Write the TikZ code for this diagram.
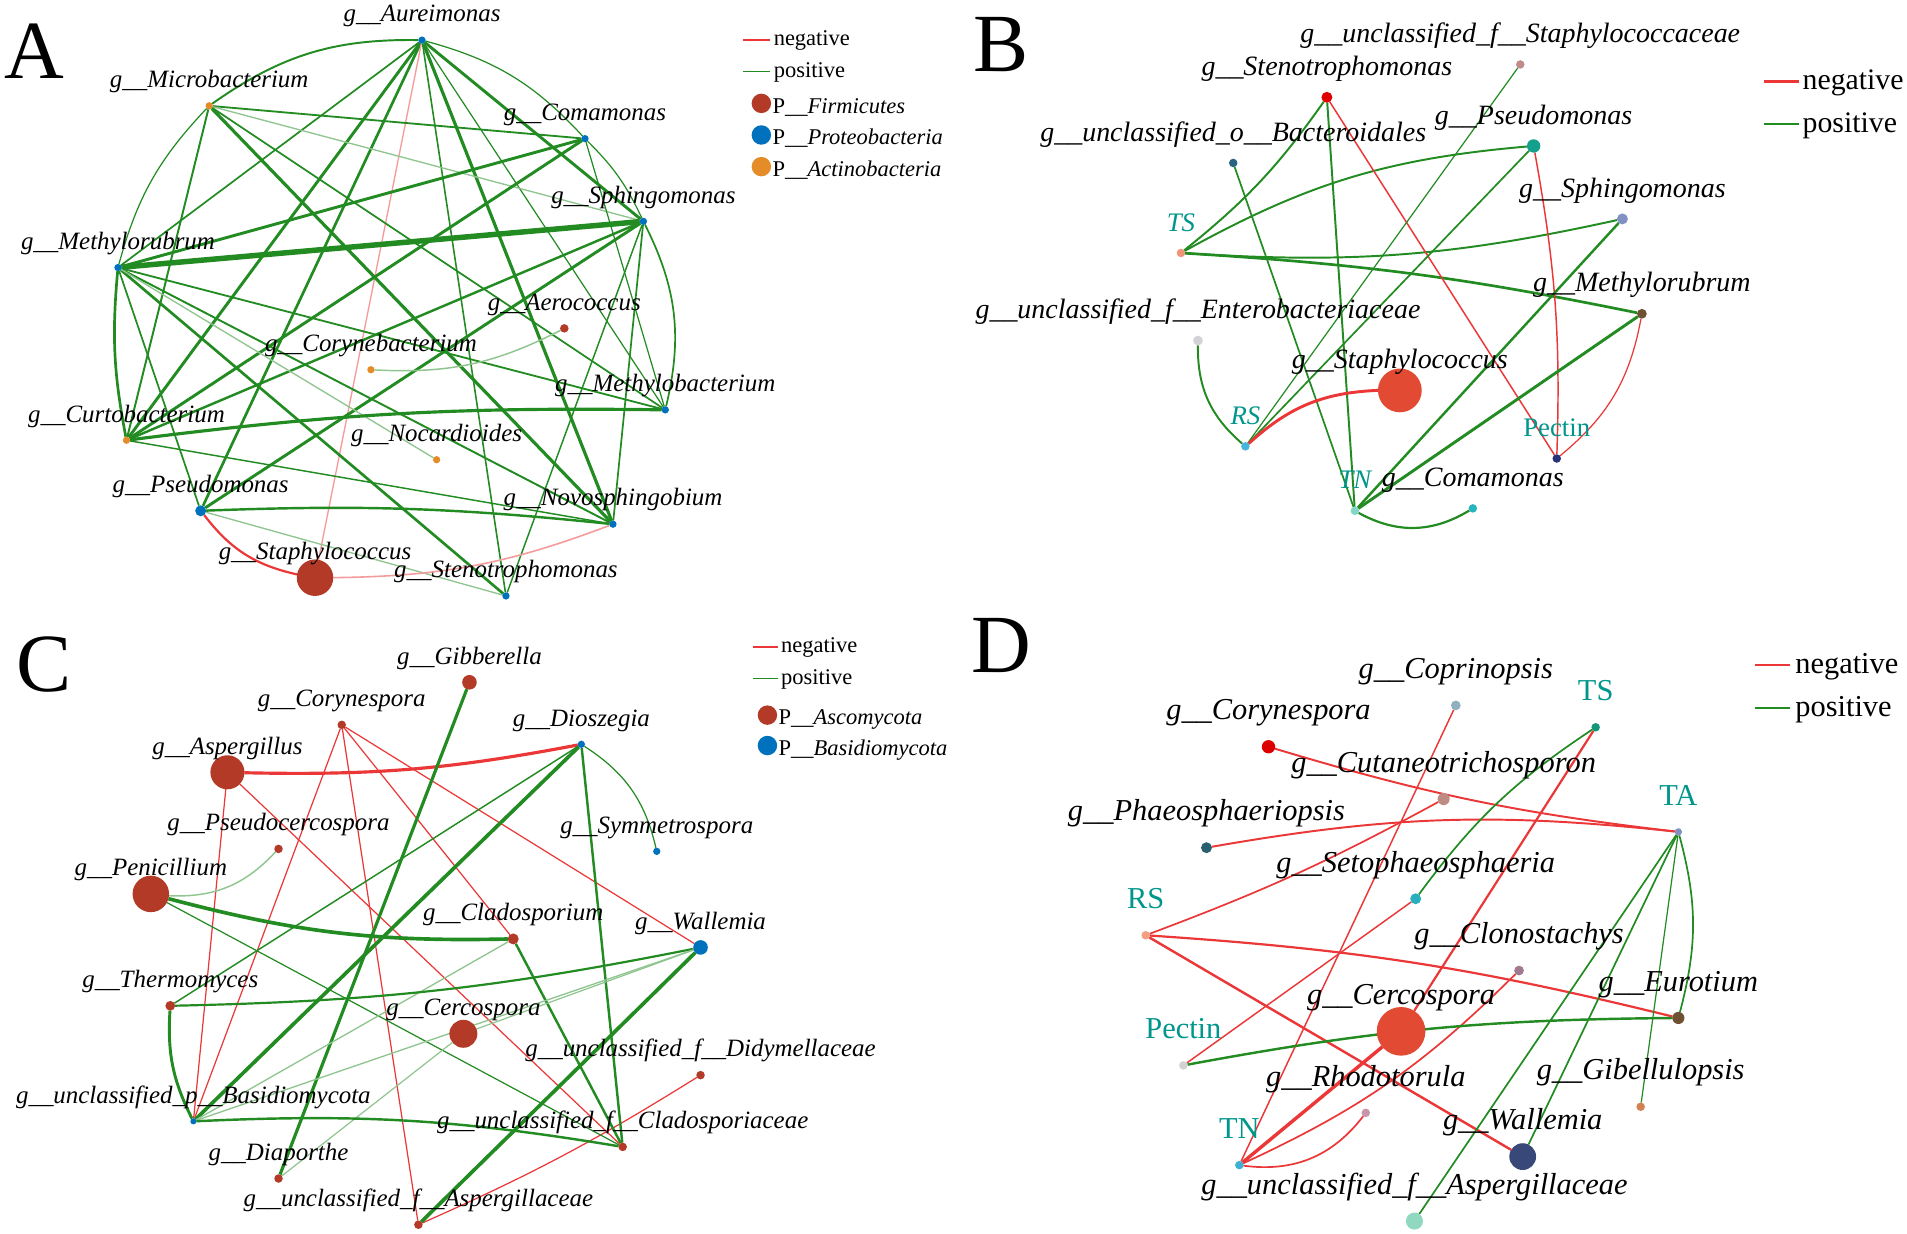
\documentclass[tikz,border=0pt]{standalone}
\usepackage{fontspec}
\setmainfont{Liberation Serif}
\usetikzlibrary{calc}
\definecolor{eg}{RGB}{34,139,34}
\definecolor{er}{RGB}{235,55,55}
\definecolor{nred}{RGB}{180,58,40}
\definecolor{nblue}{RGB}{0,114,189}
\definecolor{norange}{RGB}{228,140,40}
\definecolor{tealtx}{RGB}{0,150,140}
% panel B colours
\definecolor{bcSc}{RGB}{190,140,140}
\definecolor{bcSt}{RGB}{225,0,0}
\definecolor{bcBa}{RGB}{40,100,130}
\definecolor{bcPs}{RGB}{20,160,140}
\definecolor{bcSp}{RGB}{130,145,195}
\definecolor{bcTS}{RGB}{240,150,120}
\definecolor{bcMe}{RGB}{110,80,50}
\definecolor{bcEn}{RGB}{210,210,215}
\definecolor{bcSa}{RGB}{227,74,51}
\definecolor{bcRS}{RGB}{70,180,220}
\definecolor{bcPe}{RGB}{40,50,120}
\definecolor{bcTN}{RGB}{130,215,200}
\definecolor{bcCo}{RGB}{40,180,190}
% panel D colours
\definecolor{dcCp}{RGB}{144,176,192}
\definecolor{dcTS}{RGB}{20,150,120}
\definecolor{dcCy}{RGB}{220,0,0}
\definecolor{dcCt}{RGB}{190,140,130}
\definecolor{dcTA}{RGB}{128,144,192}
\definecolor{dcPh}{RGB}{40,96,112}
\definecolor{dcSe}{RGB}{40,176,190}
\definecolor{dcRS}{RGB}{240,160,128}
\definecolor{dcCl}{RGB}{160,120,144}
\definecolor{dcEu}{RGB}{110,80,50}
\definecolor{dcCe}{RGB}{227,74,51}
\definecolor{dcPe}{RGB}{210,210,210}
\definecolor{dcRh}{RGB}{200,150,170}
\definecolor{dcGi}{RGB}{210,130,80}
\definecolor{dcTN}{RGB}{64,176,208}
\definecolor{dcWa}{RGB}{56,72,120}
\definecolor{dcAg}{RGB}{144,216,192}
\pgfdeclarelayer{edges}
\pgfsetlayers{edges,main}
\newcommand\gn[7]{%
  \node[gdot,minimum size=#4pt,fill=#5] (#1) at (#2,#3) {};%
  \node[#6] (#1L) at (#1.center) {#7};}
\tikzset{
 gdot/.style={circle,inner sep=0pt,outer sep=0pt,draw=none},
 labA/.style={font=\fontsize{20.5}{22}\selectfont\itshape,anchor=base,yshift=15pt,inner sep=0pt},
 labB/.style={font=\fontsize{23}{25}\selectfont\itshape,anchor=base,yshift=18pt,inner sep=0pt},
 tealBi/.style={labB,text=tealtx,font=\fontsize{22}{24}\selectfont\itshape},
 tealB/.style={labB,text=tealtx,font=\fontsize{22}{24}\selectfont\upshape},
 labD/.style={font=\fontsize{25}{27}\selectfont\itshape,anchor=base,yshift=22pt,inner sep=0pt},
 tealD/.style={labD,text=tealtx,font=\fontsize{25}{27}\selectfont\upshape},
 gE/.style={draw=eg,line width=#1pt}, gE/.default=1.2,
 gL/.style={draw=eg!50!white,line width=#1pt}, gL/.default=1,
 rE/.style={draw=er,line width=#1pt}, rE/.default=1.2,
 rL/.style={draw=er!50!white,line width=#1pt}, rL/.default=1,
 legA/.style={anchor=base west,inner sep=0pt,font=\fontsize{18.5}{20}\selectfont},
 legB/.style={anchor=base west,inner sep=0pt,font=\fontsize{24.5}{26}\selectfont},
 panlet/.style={font=\fontsize{68}{70}\selectfont,inner sep=0pt}
}
\begin{document}
\begin{tikzpicture}[x=1pt,y=-1pt]
\useasboundingbox (0,0) rectangle (1568,1014);
\begin{pgfonlayer}{edges}
\fill[white] (0,0) rectangle (1568,1014);
\end{pgfonlayer}

% ================= Panel A =================
\node[panlet] (letA) at (28,42) {A};
\gn{aAu}{347}{33}{6}{nblue}{labA}{g\_\_Aureimonas}
\gn{aMi}{172}{87}{6}{norange}{labA}{g\_\_Microbacterium}
\gn{aCo}{481}{114}{6}{nblue}{labA}{g\_\_Comamonas}
\gn{aSp}{529}{182}{6}{nblue}{labA}{g\_\_Sphingomonas}
\gn{aMe}{97}{220}{6}{nblue}{labA}{g\_\_Methylorubrum}
\gn{aAe}{464}{270}{7}{nred}{labA}{g\_\_Aerococcus}
\gn{aCy}{305}{304}{6}{norange}{labA}{g\_\_Corynebacterium}
\gn{aMb}{547}{337}{6}{nblue}{labA}{g\_\_Methylobacterium}
\gn{aCu}{104}{362}{6}{norange}{labA}{g\_\_Curtobacterium}
\gn{aNo}{359}{378}{6}{norange}{labA}{g\_\_Nocardioides}
\gn{aPs}{165}{420}{9}{nblue}{labA}{g\_\_Pseudomonas}
\gn{aNv}{504}{431}{6}{nblue}{labA}{g\_\_Novosphingobium}
\gn{aSt}{259}{475}{30}{nred}{labA}{g\_\_Staphylococcus}
\gn{aSe}{416}{490}{6}{nblue}{labA}{g\_\_Stenotrophomonas}
% legend A
\coordinate (aLr1) at (611,33); \coordinate (aLr2) at (633,33);
\coordinate (aLg1) at (611,59); \coordinate (aLg2) at (633,59);
\node[legA] (aLneg) at (636,37.5) {negative};
\node[legA] (aLpos) at (636,63.5) {positive};
\node[gdot,minimum size=16pt,fill=nred] (aLd1) at (626,85) {};
\node[gdot,minimum size=16pt,fill=nblue] (aLd2) at (626,111) {};
\node[gdot,minimum size=16pt,fill=norange] (aLd3) at (626,137) {};
\node[legA] (aLt1) at (635,93) {P{\itshape\_\_Firmicutes}};
\node[legA] (aLt2) at (635,119) {P{\itshape\_\_Proteobacteria}};
\node[legA] (aLt3) at (635,145) {P{\itshape\_\_Actinobacteria}};

% ================= Panel B =================
\node[panlet] (letB) at (823,37) {B};
\gn{bSc}{1250}{53}{7}{bcSc}{labB}{g\_\_unclassified\_f\_\_Staphylococcaceae}
\gn{bSt}{1091}{80}{9}{bcSt}{labB}{g\_\_Stenotrophomonas}
\gn{bBa}{1014}{134}{7}{bcBa}{labB}{g\_\_unclassified\_o\_\_Bacteroidales}
\gn{bPs}{1261}{120}{11}{bcPs}{labB}{g\_\_Pseudomonas}
\gn{bSp}{1334}{180}{9}{bcSp}{labB}{g\_\_Sphingomonas}
\gn{bTS}{971}{208}{7}{bcTS}{tealBi}{TS}
\gn{bMe}{1350}{258}{8}{bcMe}{labB}{g\_\_Methylorubrum}
\gn{bEn}{985}{280}{8}{bcEn}{labB}{g\_\_unclassified\_f\_\_Enterobacteriaceae}
\gn{bSa}{1151}{321}{36}{bcSa}{labB}{g\_\_Staphylococcus}
\gn{bRS}{1024}{367}{7}{bcRS}{tealBi}{RS}
\gn{bPe}{1280}{377}{7}{bcPe}{tealB}{Pectin}
\gn{bTN}{1114}{420}{7}{bcTN}{tealBi}{TN}
\gn{bCo}{1211}{418}{7}{bcCo}{labB}{g\_\_Comamonas}
\coordinate (bLr1) at (1450,67); \coordinate (bLr2) at (1479,67);
\coordinate (bLg1) at (1450,102); \coordinate (bLg2) at (1479,102);
\node[legB] (bLneg) at (1482,74) {negative};
\node[legB] (bLpos) at (1482,109) {positive};

% ================= Panel C =================
\node[panlet] (letC) at (36,546) {C};
\gn{cGi}{386}{561}{12}{nred}{labA}{g\_\_Gibberella}
\gn{cCy}{281}{596}{7}{nred}{labA}{g\_\_Corynespora}
\gn{cDi}{478}{612}{6}{nblue}{labA}{g\_\_Dioszegia}
\gn{cAs}{187}{635}{28}{nred}{labA}{g\_\_Aspergillus}
\gn{cPc}{229}{698}{7}{nred}{labA}{g\_\_Pseudocercospora}
\gn{cSy}{540}{700}{6}{nblue}{labA}{g\_\_Symmetrospora}
\gn{cPe}{124}{735}{30}{nred}{labA}{g\_\_Penicillium}
\gn{cCl}{422}{772}{9}{nred}{labA}{g\_\_Cladosporium}
\gn{cWa}{576}{779}{12}{nblue}{labA}{g\_\_Wallemia}
\gn{cTh}{140}{827}{8}{nred}{labA}{g\_\_Thermomyces}
\gn{cCe}{381}{850}{23}{nred}{labA}{g\_\_Cercospora}
\gn{cDm}{576}{884}{7}{nred}{labA}{g\_\_unclassified\_f\_\_Didymellaceae}
\gn{cBa}{159}{922}{5}{nblue}{labA}{g\_\_unclassified\_p\_\_Basidiomycota}
\gn{cCa}{512}{943}{7}{nred}{labA}{g\_\_unclassified\_f\_\_Cladosporiaceae}
\gn{cDp}{229}{969}{7}{nred}{labA}{g\_\_Diaporthe}
\gn{cAg}{344}{1007}{7}{nred}{labA}{g\_\_unclassified\_f\_\_Aspergillaceae}
\coordinate (cLr1) at (619,532); \coordinate (cLr2) at (640,532);
\coordinate (cLg1) at (619,558); \coordinate (cLg2) at (640,558);
\node[legA] (cLneg) at (642,536.5) {negative};
\node[legA] (cLpos) at (642,562.5) {positive};
\node[gdot,minimum size=16pt,fill=nred] (cLd1) at (631,588) {};
\node[gdot,minimum size=16pt,fill=nblue] (cLd2) at (631,613) {};
\node[legA] (cLt1) at (640,596) {P{\itshape\_\_Ascomycota}};
\node[legA] (cLt2) at (640,621) {P{\itshape\_\_Basidiomycota}};

% ================= Panel D =================
\node[panlet] (letD) at (823,531) {D};
\gn{dCp}{1197}{580}{8}{dcCp}{labD}{g\_\_Coprinopsis}
\gn{dTS}{1312}{598}{7}{dcTS}{tealD}{TS}
\gn{dCy}{1043}{614}{11}{dcCy}{labD}{g\_\_Corynespora}
\gn{dCt}{1187}{657}{10}{dcCt}{labD}{g\_\_Cutaneotrichosporon}
\gn{dTA}{1380}{684}{6}{dcTA}{tealD}{TA}
\gn{dPh}{992}{697}{9}{dcPh}{labD}{g\_\_Phaeosphaeriopsis}
\gn{dSe}{1164}{739}{9}{dcSe}{labD}{g\_\_Setophaeosphaeria}
\gn{dRS}{942}{769}{7}{dcRS}{tealD}{RS}
\gn{dCl}{1249}{798}{8}{dcCl}{labD}{g\_\_Clonostachys}
\gn{dEu}{1380}{837}{10}{dcEu}{labD}{g\_\_Eurotium}
\gn{dCe}{1152}{848}{40}{dcCe}{labD}{g\_\_Cercospora}
\gn{dPe}{973}{876}{7}{dcPe}{tealD}{Pectin}
\gn{dRh}{1123}{915}{7}{dcRh}{labD}{g\_\_Rhodotorula}
\gn{dGi}{1349}{910}{7}{dcGi}{labD}{g\_\_Gibellulopsis}
\gn{dTN}{1019}{958}{7}{dcTN}{tealD}{TN}
\gn{dWa}{1252}{951}{22}{dcWa}{labD}{g\_\_Wallemia}
\gn{dAg}{1163}{1004}{14}{dcAg}{labD}{g\_\_unclassified\_f\_\_Aspergillaceae}
\coordinate (dLr1) at (1443,546.5); \coordinate (dLr2) at (1472,546.5);
\coordinate (dLg1) at (1443,582); \coordinate (dLg2) at (1472,582);
\node[legB,font=\fontsize{25}{27}\selectfont] (dLneg) at (1476,554) {negative};
\node[legB,font=\fontsize{25}{27}\selectfont] (dLpos) at (1476,589) {positive};

% ================= Edges =================
\begin{pgfonlayer}{edges}
% legends
\draw[rE=1.2] (aLr1) -- (aLr2); \draw[gE=1.2] (aLg1) -- (aLg2);
\draw[rE=1.8] (bLr1) -- (bLr2); \draw[gE=1.8] (bLg1) -- (bLg2);
\draw[rE=1.2] (cLr1) -- (cLr2); \draw[gE=1.2] (cLg1) -- (cLg2);
\draw[rE=1.8] (dLr1) -- (dLr2); \draw[gE=1.8] (dLg1) -- (dLg2);
% --- A ---
\draw[gE=1.6] (aAu) to[bend right=18] (aMi);
\draw[gE=1.0] (aAu) to[bend left=16] (aCo);
\draw[gE=1.0] (aCo) to[bend left=10] (aSp);
\draw[gE=1.4] (aSp) to[bend left=20] (aMb);
\draw[gE=2.4] (aAu) -- (aSp);
\draw[gE=1.0] (aAu) -- (aMb);
\draw[gE=2.6] (aAu) -- (aNv);
\draw[gE=1.3] (aAu) -- (aSe);
\draw[gE=2.4] (aAu) -- (aCu);
\draw[gE=2.2] (aAu) -- (aPs);
\draw[gE=1.4] (aAu) -- (aMe);
\draw[rL=1.1] (aAu) -- (aSt);
\draw[gE=1.5] (aMi) -- (aCo);
\draw[gL=1.1] (aMi) -- (aSp);
\draw[gE=2.6] (aMi) -- (aNv);
\draw[gE=1.4] (aMi) -- (aMb);
\draw[gE=1.0] (aMi) to[bend right=14] (aMe);
\draw[gE=1.6] (aMi) -- (aCu);
\draw[gE=2.4] (aCo) -- (aMe);
\draw[gE=2.4] (aCo) -- (aCu);
\draw[gE=1.0] (aCo) -- (aMb);
\draw[gE=4.5] (aSp) -- (aMe);
\draw[gE=2.0] (aSp) -- (aCu);
\draw[gE=2.4] (aSp) -- (aPs);
\draw[gE=1.2] (aSp) -- (aSe);
\draw[gE=1.4] (aSp) -- (aNv);
\draw[gE=2.2] (aMe) to[bend right=8] (aCu);
\draw[gE=1.5] (aMe) -- (aMb);
\draw[gE=1.6] (aMe) -- (aNv);
\draw[gE=2.2] (aMe) -- (aSe);
\draw[gL=1.1] (aMe) -- (aNo);
\draw[gE=1.4] (aMe) -- (aPs);
\draw[gE=2.6] (aCu) to[bend left=4] (aMb);
\draw[gE=1.2] (aCu) -- (aNv);
\draw[gE=2.0] (aPs) to[bend left=4] (aNv);
\draw[gL=1.1] (aPs) -- (aSe);
\draw[gL=1.2] (aCy) to[bend right=15] (aAe);
\draw[rE=1.8] (aPs) to[bend right=20] (aSt);
\draw[rL=1.3] (aSt) to[bend right=10] (aNv);
% --- B ---
\draw[gE=1.6] (bTS) to[bend right=8] (bSt);
\draw[gE=1.6] (bTS) to[bend left=12] (bPs);
\draw[gE=1.6] (bTS) to[bend right=8] (bSp);
\draw[gE=2.2] (bTS) to[bend left=4] (bMe);
\draw[gE=1.6] (bSt) -- (bTN);
\draw[rE=1.2] (bSt) -- (bPe);
\draw[gE=1.4] (bBa) -- (bTN);
\draw[gE=1.0] (bSc) -- (bRS);
\draw[gE=1.4] (bPs) -- (bRS);
\draw[rE=1.2] (bPs) to[bend left=6] (bPe);
\draw[gE=2.0] (bSp) -- (bTN);
\draw[gE=2.4] (bMe) -- (bTN);
\draw[rE=1.0] (bMe) to[bend left=20] (bPe);
\draw[gE=1.6] (bEn) to[bend right=25] (bRS);
\draw[rE=2.4] (bSa) to[bend right=20] (bRS);
\draw[gE=1.8] (bTN) to[bend right=30] (bCo);
% --- C ---
\draw[rE=2.6] (cAs) to[bend right=6] (cDi);
\draw[rE=1.0] (cAs) -- (cBa);
\draw[rE=1.0] (cAs) -- (cCa);
\draw[rE=1.0] (cCy) -- (cBa);
\draw[rE=1.0] (cCy) -- (cAg);
\draw[rE=1.0] (cCy) -- (cCl);
\draw[rE=1.0] (cCy) -- (cWa);
\draw[rE=1.0] (cDm) to[bend left=4] (cAg);
\draw[gE=2.6] (cGi) -- (cDp);
\draw[gE=3.0] (cDi) -- (cBa);
\draw[gE=1.2] (cDi) -- (cTh);
\draw[gE=2.0] (cDi) -- (cCa);
\draw[gE=1.0] (cDi) to[bend left=22] (cSy);
\draw[gL=1.2] (cPe) to[bend right=25] (cPc);
\draw[gE=3.0] (cPe) to[bend right=8] (cCl);
\draw[gE=1.0] (cPe) -- (cCa);
\draw[gE=2.0] (cCl) -- (cCa);
\draw[gL=1.1] (cCl) -- (cBa);
\draw[gE=1.8] (cWa) to[bend left=5] (cTh);
\draw[gL=1.1] (cWa) -- (cBa);
\draw[gE=3.0] (cWa) -- (cAg);
\draw[gL=1.0] (cWa) -- (cCe);
\draw[gL=1.0] (cCe) -- (cDp);
\draw[gE=2.4] (cTh) to[bend right=15] (cBa);
\draw[gE=2.0] (cBa) to[bend left=6] (cCa);
% --- D ---
\draw[rE=1.6] (dCy) to[bend right=5] (dTA);
\draw[rE=1.6] (dPh) to[bend left=8] (dTA);
\draw[rE=1.2] (dCp) -- (dTN);
\draw[rE=1.8] (dTS) -- (dCe);
\draw[rE=2.8] (dCe) -- (dTN);
\draw[rE=1.4] (dCt) to[bend left=4] (dRS);
\draw[rE=1.2] (dSe) -- (dPe);
\draw[rE=1.8] (dRS) to[bend left=5] (dEu);
\draw[rE=2.0] (dRS) -- (dWa);
\draw[rE=1.4] (dCl) to[bend left=10] (dTN);
\draw[rE=1.4] (dRh) to[bend left=30] (dTN);
\draw[gE=1.4] (dTS) to[bend right=10] (dSe);
\draw[gE=1.4] (dTA) -- (dAg);
\draw[gE=1.4] (dTA) -- (dWa);
\draw[gE=1.0] (dTA) -- (dGi);
\draw[gE=1.4] (dTA) to[bend left=15] (dEu);
\draw[gE=2.0] (dPe) to[bend left=5] (dEu);
\end{pgfonlayer}
\end{tikzpicture}
\end{document}
